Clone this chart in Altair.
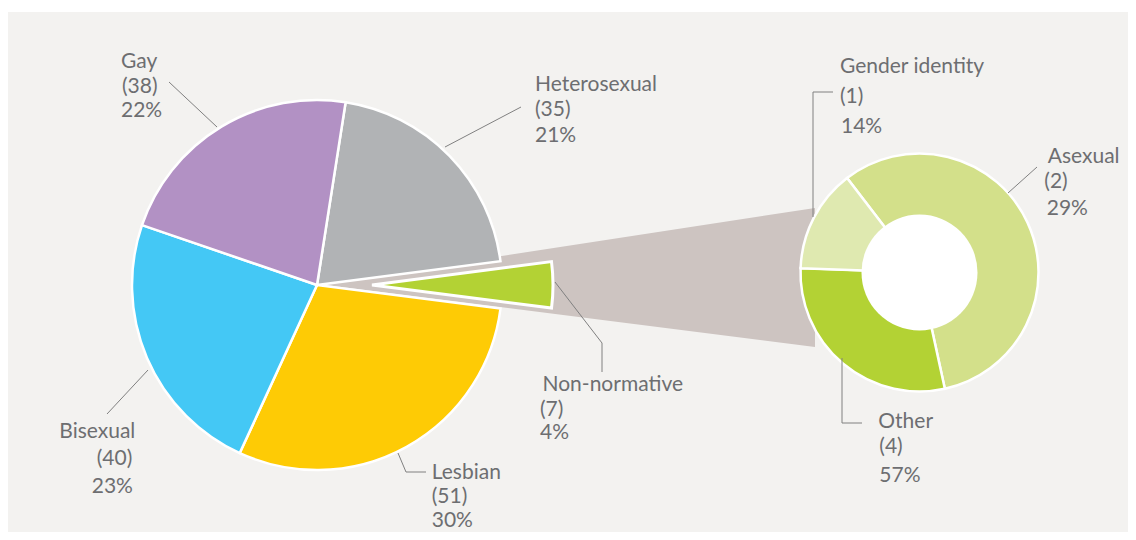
import math
import altair as alt
import pandas as pd

# ---------------- data ----------------
main_labels = ["Heterosexual", "Non-normative", "Lesbian", "Bisexual", "Gay"]
main_counts = [35, 7, 51, 40, 38]
main_pcts = ["21%", "4%", "30%", "23%", "22%"]
main_colors = ["#b1b3b5", "#b3d234", "#fecb05", "#44c8f5", "#b291c4"]
exploded_label = "Non-normative"

sub_labels = ["Asexual", "Other", "Gender identity"]
sub_counts = [2, 4, 1]
sub_pcts = ["29%", "57%", "14%"]
# share of the ring each slice covers, as drawn in the reference
sub_ring_share = [57, 29, 14]
sub_colors = ["#d3e08a", "#b3d234", "#dfe9b0"]

# ---------------- layout (page pixels) ----------------
W, H = 1120, 524
XS = alt.Scale(domain=[8, 8 + W], nice=False, zero=False)
YS = alt.Scale(domain=[8, 8 + H], nice=False, zero=False, reverse=True)

PIE_C = (317, 285)
PIE_R = 185
PIE_START = math.radians(8.9)
EXPLODE = 55
EXPLODE_R = 181

RING_C = (919.5, 272.5)
RING_R = 119
RING_HOLE = 58
RING_START = math.radians(322.5)

PANEL = dict(x=8, x2=8 + W, y=12, y2=8 + H)
CONNECTOR = [(318, 284, 284), (815, 208, 347)]

LABEL_POS = {
    "Gay": [(121, 68.3), (122, 92.7), (121, 116.7)],
    "Heterosexual": [(535, 90.7), (535, 115.5), (535, 141.7)],
    "Non-normative": [(542.5, 390.7), (540, 416), (540, 439)],
    "Lesbian": [(431.7, 479), (431.7, 503), (431.7, 526.5)],
    "Bisexual": [(59.3, 437.7), (96.7, 465), (91.7, 493.3)],
    "Gender identity": [(840, 73.3), (840, 103.3), (841, 132.7)],
    "Asexual": [(1047.7, 162.7), (1044.3, 188.3), (1046.7, 215)],
    "Other": [(878.3, 428.3), (879.3, 453.3), (879.3, 481.7)],
}

LEADERS = {
    "Gay": [(169, 82), (217, 127)],
    "Heterosexual": [(521, 107), (445, 147)],
    "Bisexual": [(107, 414), (148, 370)],
    "Lesbian": [(398, 453), (406, 472), (426, 472)],
    "Non-normative": [(555, 282), (602, 343), (602, 372)],
    "Gender identity": [(833, 92), (813, 92), (813, 217)],
    "Asexual": [(1037, 167), (1008, 193)],
    "Other": [(842, 358), (842, 423), (862, 423)],
}

TEXT_COLOR = "#6d6e71"
LINE_COLOR = "#808080"
BG = "#f3f2f0"
CONNECTOR_COLOR = "#cdc4c1"
FONT = "Lato"
FONT_SIZE = 21

# ---------------- tables ----------------
def slices(labels, values, colors, start, center):
    total = float(sum(values))
    acc = 0.0
    rows = []
    for lab, v, col in zip(labels, values, colors):
        t0 = start + 2 * math.pi * acc / total
        acc += v
        t1 = start + 2 * math.pi * acc / total
        rows.append(dict(label=lab, t0=t0, t1=t1, color=col, cx=center[0], cy=center[1]))
    return pd.DataFrame(rows)

pie = slices(main_labels, main_counts, main_colors, PIE_START, PIE_C)
pie_rest = pie[pie.label != exploded_label]
pie_out = pie[pie.label == exploded_label].copy()
mid = (pie_out.t0 + pie_out.t1) / 2
pie_out["cx"] = pie_out.cx + EXPLODE * mid.apply(math.sin)
pie_out["cy"] = pie_out.cy - EXPLODE * mid.apply(math.cos)

ring = slices(sub_labels, sub_ring_share, sub_colors, RING_START, RING_C)
hole = pd.DataFrame([dict(t0=0.0, t1=2 * math.pi, color="#ffffff", cx=RING_C[0], cy=RING_C[1])])

panel = pd.DataFrame([PANEL])
conn = pd.DataFrame([dict(x=a, y=b, y2=c) for a, b, c in CONNECTOR])

text_rows = []
for labs, counts, pcts in [(main_labels, main_counts, main_pcts), (sub_labels, sub_counts, sub_pcts)]:
    for lab, c, p in zip(labs, counts, pcts):
        for (x, y), t in zip(LABEL_POS[lab], [lab, f"({c})", p]):
            text_rows.append(dict(x=x, y=y, txt=t))
texts = pd.DataFrame(text_rows)

lead_rows = []
for lab, pts in LEADERS.items():
    for i, (x, y) in enumerate(pts):
        lead_rows.append(dict(grp=lab, i=i, x=x, y=y))
leads = pd.DataFrame(lead_rows)

# ---------------- layers ----------------
def arc_layer(df, outer, inner=0, stroke_w=2.5):
    kw = dict(outerRadius=outer, innerRadius=inner)
    if stroke_w:
        kw.update(stroke="white", strokeWidth=stroke_w)
    return alt.Chart(df).mark_arc(**kw).encode(
        x=alt.X("cx:Q", scale=XS, axis=None),
        y=alt.Y("cy:Q", scale=YS, axis=None),
        theta=alt.Theta("t0:Q", scale=None, stack=False),
        theta2=alt.Theta2("t1"),
        color=alt.Color("color:N", scale=None, legend=None),
    )

bg_layer = alt.Chart(panel).mark_rect(color=BG).encode(
    x=alt.X("x:Q", scale=XS, axis=None), x2="x2",
    y=alt.Y("y:Q", scale=YS, axis=None), y2="y2",
)

conn_layer = alt.Chart(conn).mark_area(color=CONNECTOR_COLOR, opacity=1).encode(
    x=alt.X("x:Q", scale=XS, axis=None),
    y=alt.Y("y:Q", scale=YS, axis=None),
    y2="y2",
)

lead_layer = alt.Chart(leads).mark_line(color=LINE_COLOR, strokeWidth=1).encode(
    x=alt.X("x:Q", scale=XS, axis=None),
    y=alt.Y("y:Q", scale=YS, axis=None),
    detail="grp:N",
    order="i:Q",
)

text_layer = alt.Chart(texts).mark_text(
    align="left", baseline="alphabetic", font=FONT, fontSize=FONT_SIZE, color=TEXT_COLOR
).encode(
    x=alt.X("x:Q", scale=XS, axis=None),
    y=alt.Y("y:Q", scale=YS, axis=None),
    text="txt:N",
)

chart = alt.layer(
    bg_layer,
    conn_layer,
    arc_layer(pie_rest, PIE_R),
    arc_layer(pie_out, EXPLODE_R, stroke_w=3),
    arc_layer(ring, RING_R, stroke_w=2.5),
    arc_layer(hole, RING_HOLE, stroke_w=0),
    lead_layer,
    text_layer,
).properties(
    width=W, height=H, padding=0, autosize="none", background="white"
).configure_view(strokeWidth=0)

chart.save("out.html", embed_options={"renderer": "svg", "actions": False})
